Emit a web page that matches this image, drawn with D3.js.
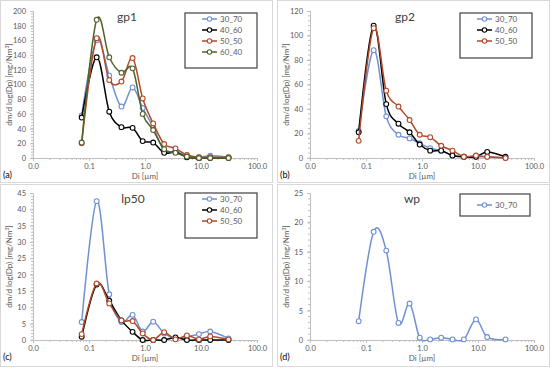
<!DOCTYPE html>
<html>
<head>
<meta charset="utf-8">
<script src="https://cdn.jsdelivr.net/npm/d3@7"></script>
<style>
  body { margin: 0; background: #fff; }
  text { font-family: Lato, "Open Sans", sans-serif; }
</style>
</head>
<body>
<div id="chart"></div>
<script>
// stage diameters [um]
const diameters = [0.074, 0.137, 0.23, 0.38, 0.60, 0.91, 1.4, 2.2, 3.5, 5.6, 9.2, 14.6, 31];
const xTicks = [0.01, 0.1, 1, 10, 100];

// gp1
const gp1_30_70 = [58, 160, 112, 70, 96, 68, 42, 10, 9, 3, 1, 3, 1];
const gp1_40_60 = [55, 137, 63, 42, 41, 23, 21, 7, 8, 1, 0, 0, 0];
const gp1_50_50 = [20, 163, 106, 104, 136, 81, 47, 19, 13, 4, 1, 1, 1];
const gp1_60_40 = [21, 188, 137, 116, 122, 60, 38, 12, 7, 2, 0, 0, 0];

// gp2
const gp2_30_70 = [22, 88, 34, 19, 16, 12, 8, 6, 2, 1, 1, 1, 0];
const gp2_40_60 = [21, 108, 44, 28, 21, 11, 6, 6, 2, 1, 1, 5, 1];
const gp2_50_50 = [14, 106, 55, 42, 31, 19, 17, 10, 6, 1, 2, 1, 0];

// lp50
const lp50_30_70 = [5.5, 42.5, 14, 5.5, 7.7, 2.6, 5.6, 2.0, 0.5, 1.0, 1.8, 2.6, 0.5];
const lp50_40_60 = [1.0, 17, 12, 6, 2.5, 0, 0, 0, 0.8, 0, 0, 0, 0];
const lp50_50_50 = [1.8, 17.3, 11.2, 6, 5.8, 2, 0, 2.4, 0.2, 1.4, 0.2, 1.1, 0.2];

// wp
const wp_30_70 = [3.2, 18.4, 15.2, 2.9, 6.2, 0.4, 0.1, 0.4, 0.1, 0.1, 3.5, 0.5, 0.1];

const colors = { "30_70": "#6f90d2", "40_60": "#000000", "50_50": "#b04a2a", "60_40": "#4f6228" };

const panels = [
  { ox: 0, oy: 0, title: "gp1", tag: "(a)", yMax: 200, yStep: 20, titleX: 127,
    legend: [185, 13, 72, 55],
    series: [["30_70", gp1_30_70], ["40_60", gp1_40_60], ["50_50", gp1_50_50], ["60_40", gp1_60_40]] },
  { ox: 277, oy: 0, title: "gp2", tag: "(b)", yMax: 120, yStep: 20, titleX: 128,
    legend: [183, 13, 72, 45],
    series: [["30_70", gp2_30_70], ["40_60", gp2_40_60], ["50_50", gp2_50_50]] },
  { ox: 0, oy: 184, title: "lp50", tag: "(c)", yMax: 45, yStep: 5, titleX: 133,
    legend: [185, 9, 72, 45],
    series: [["30_70", lp50_30_70], ["40_60", lp50_40_60], ["50_50", lp50_50_50]] },
  { ox: 277, oy: 184, title: "wp", tag: "(d)", yMax: 25, yStep: 5, titleX: 135,
    legend: [183, 10, 70, 22],
    series: [["30_70", wp_30_70]] }
];

const svg = d3.select("#chart").append("svg")
  .attr("width", 550).attr("height", 368);

panels.forEach(function (p) {
  const g = svg.append("g").attr("transform", "translate(" + p.ox + "," + p.oy + ")");
  const top = p.oy === 0 ? 11 : 9;
  const bottom = top + 147;

  g.append("rect").attr("x", 0.5).attr("y", 0.5).attr("width", 272).attr("height", 182)
    .attr("fill", "#fff").attr("stroke", "#d9d9d9");

  const x = d3.scaleLog().domain([0.01, 100]).range([33, 257]);
  const y = d3.scaleLinear().domain([0, p.yMax]).range([bottom, top]);

  // x axis with minor log ticks
  const xAxis = g.append("g").attr("transform", "translate(0," + bottom + ")")
    .call(d3.axisBottom(x).tickValues(xTicks).tickFormat(d3.format(".1f")).tickSize(3).tickPadding(3));
  const xMinor = [];
  for (let e = -2; e < 2; e++) for (let k = 2; k <= 9; k++) xMinor.push(k * Math.pow(10, e));
  xAxis.selectAll(".minor").data(xMinor).enter().append("line").attr("class", "minor")
    .attr("x1", d => x(d)).attr("x2", d => x(d)).attr("y1", 0).attr("y2", 2)
    .attr("stroke", "#bfbfbf");

  // y axis with minor ticks
  const yAxis = g.append("g").attr("transform", "translate(33,0)")
    .call(d3.axisLeft(y).tickValues(d3.range(0, p.yMax + 0.001, p.yStep)).tickSize(3).tickPadding(4));
  yAxis.selectAll(".minor").data(d3.range(0, p.yMax, p.yStep / 5)).enter().append("line").attr("class", "minor")
    .attr("x1", -2).attr("x2", 0).attr("y1", d => y(d)).attr("y2", d => y(d))
    .attr("stroke", "#bfbfbf");

  [xAxis, yAxis].forEach(function (a) {
    a.select(".domain").attr("stroke", "#bfbfbf");
    a.selectAll(".tick line").attr("stroke", "#bfbfbf");
    a.selectAll(".tick text").attr("fill", "#595959").style("font-size", "7.5px")
      .style("font-family", "Lato, sans-serif");
  });

  // axis titles
  const yl = g.append("text")
    .attr("transform", "translate(12," + ((top + bottom) / 2) + ") rotate(-90)")
    .attr("text-anchor", "middle").attr("fill", "#595959").style("font-size", "8px");
  yl.append("tspan").text("dm/d log(Dp) [mg/Nm");
  yl.append("tspan").attr("dy", -3).style("font-size", "5px").text("3");
  yl.append("tspan").attr("dy", 3).text("]");

  g.append("text").attr("x", 145).attr("y", bottom + 21).attr("text-anchor", "middle")
    .attr("fill", "#595959").style("font-size", "8px").text("Di [µm]");

  g.append("text").attr("x", 3).attr("y", bottom + 20)
    .attr("fill", "#000").style("font-size", "9px").text(p.tag);

  g.append("text").attr("x", p.titleX).attr("y", top + 10).attr("text-anchor", "middle")
    .attr("fill", "#404040").style("font-size", "12px").text(p.title);

  // series
  const line = d3.line().x((d, i) => x(diameters[i])).y(d => y(d))
    .curve(d3.curveCardinal.tension(0));

  p.series.forEach(function (s) {
    const c = colors[s[0]];
    g.append("path").datum(s[1]).attr("d", line)
      .attr("fill", "none").attr("stroke", c).attr("stroke-width", 1.5);
    g.selectAll(null).data(s[1]).enter().append("circle")
      .attr("cx", (d, i) => x(diameters[i])).attr("cy", d => y(d)).attr("r", 2.4)
      .attr("fill", "#fff").attr("stroke", c).attr("stroke-width", 1.1);
  });

  // legend
  const L = p.legend;
  const lg = g.append("g").attr("transform", "translate(" + L[0] + "," + L[1] + ")");
  lg.append("rect").attr("width", L[2]).attr("height", L[3])
    .attr("fill", "#fff").attr("stroke", "#404040").attr("stroke-width", 1.2);
  p.series.forEach(function (s, i) {
    const c = colors[s[0]];
    const ly = 6 + i * 11 + (p.series.length === 1 ? 5 : 0);
    lg.append("line").attr("x1", 17).attr("x2", 32).attr("y1", ly).attr("y2", ly)
      .attr("stroke", c).attr("stroke-width", 1.5);
    lg.append("circle").attr("cx", 24.5).attr("cy", ly).attr("r", 2.2)
      .attr("fill", "#fff").attr("stroke", c).attr("stroke-width", 1.1);
    lg.append("text").attr("x", 35).attr("y", ly + 3).attr("fill", "#595959")
      .style("font-size", "8px").text(s[0]);
  });
});
</script>
</body>
</html>
